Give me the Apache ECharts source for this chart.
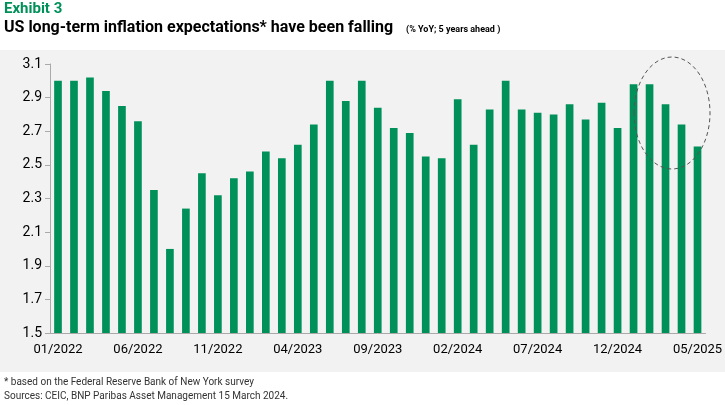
<!DOCTYPE html>
<html><head><meta charset="utf-8">
<script src="https://cdn.jsdelivr.net/npm/echarts@6/dist/echarts.min.js"></script>
<style>body{margin:0;background:#fff}#c{width:725px;height:405px}</style>
</head><body><div id="c"></div>
<script>
let months = ['01/2022','02/2022','03/2022','04/2022','05/2022','06/2022','07/2022','08/2022','09/2022','10/2022','11/2022','12/2022',
  '01/2023','02/2023','03/2023','04/2023','05/2023','06/2023','07/2023','08/2023','09/2023','10/2023','11/2023','12/2023',
  '01/2024','02/2024','03/2024','04/2024','05/2024','06/2024','07/2024','08/2024','09/2024','10/2024','11/2024','12/2024',
  '01/2025','02/2025','03/2025','04/2025','05/2025']
let expect5y = [3.00,3.00,3.02,2.94,2.85,2.76,2.35,2.00,2.24,2.45,2.32,2.42,
  2.46,2.58,2.54,2.62,2.74,3.00,2.88,3.00,2.84,2.72,2.69,2.55,
  2.54,2.89,2.62,2.83,3.00,2.83,2.81,2.80,2.86,2.77,2.87,2.72,
  2.98,2.98,2.86,2.74,2.61]
let yTicks = [1.5,1.7,1.9,2.1,2.3,2.5,2.7,2.9,3.1]

let chart = echarts.init(document.getElementById('c'))
let font = 'Roboto'
chart.setOption({
  animation:false,
  textStyle:{fontFamily:font},
  graphic:[
    {type:'rect',shape:{x:0,y:50,width:725,height:322},style:{fill:'#f2f2f2'},z:-10},
    {type:'text',left:4,top:2,style:{text:'Exhibit 3',fill:'#00915a',font:'bold 15px '+font}},
    {type:'text',left:4,top:20,style:{text:'US long-term inflation expectations* have been falling',fill:'#000',font:'bold 16px '+font}},
    {type:'text',left:406,top:25,style:{text:'(% YoY; 5 years ahead )',fill:'#000',font:'bold 9px '+font}},
    {type:'text',left:4,top:377,style:{text:'* based on the Federal Reserve Bank of New York survey',fill:'#333',font:'10px '+font}},
    {type:'text',left:4,top:391,style:{text:'Sources: CEIC, BNP Paribas Asset Management 15 March 2024.',fill:'#333',font:'10px '+font}},
    {type:'ellipse',shape:{cx:672,cy:113,rx:38,ry:56},style:{fill:'none',stroke:'#555',lineDash:[4,3],lineWidth:1},z:10}
  ],
  grid:{left:50,right:10,top:64,bottom:72},
  xAxis:{type:'category',data:months,
    axisLine:{lineStyle:{color:'#aaa'}},
    axisTick:{interval:4,alignWithLabel:false,lineStyle:{color:'#aaa'}},
    axisLabel:{interval:4,color:'#000',fontSize:13,margin:10}},
  yAxis:{type:'value',min:yTicks[0],max:yTicks[yTicks.length-1],interval:0.2,
    splitLine:{show:false},
    axisLine:{show:true,lineStyle:{color:'#aaa'}},
    axisTick:{show:true,lineStyle:{color:'#aaa'}},
    axisLabel:{color:'#000',fontSize:14,formatter:v=>v.toFixed(1)}},
  series:[{type:'bar',data:expect5y,barWidth:'48%',itemStyle:{color:'#00905a'}}]
})
</script></body></html>
